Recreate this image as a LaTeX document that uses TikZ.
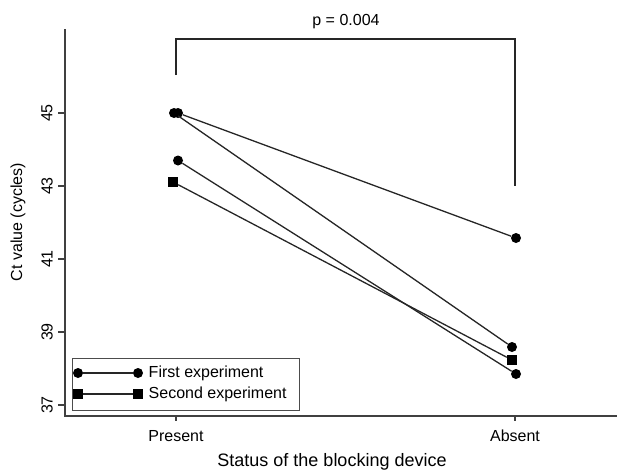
\documentclass[tikz,border=0pt]{standalone}
\usepackage{fontspec}
\setmainfont{Liberation Sans}
\usetikzlibrary{positioning}

\begin{document}
\begin{tikzpicture}[x=1pt,y=-1pt,
  font=\fontsize{16}{19}\selectfont,
  dot/.style={circle,fill=black,inner sep=0pt,minimum size=10pt},
  sq/.style={rectangle,fill=black,inner sep=0pt,minimum size=10pt},
  pair/.style={line width=1.3pt,black!85},
  axisline/.style={line width=1.4pt,black!75}]
\useasboundingbox (0,0) rectangle (617,471);

% axes and ticks
\draw[axisline] (65,29) -- (65,416) -- (617,416);
\foreach \v/\y in {37/405,39/332,41/259,43/186,45/113}{
  \draw[axisline] (58,\y) -- (65,\y);
  \node[rotate=90] (tick\v) at (47,\y) {\v};
}
\foreach \x/\name in {176/Present,515/Absent}{
  \draw[axisline] (\x,416) -- (\x,421);
  \node (lab\name) at (\x,436) {\name};
}
\node[font=\fontsize{18}{21}\selectfont] (xtitle) at (332,462) {Status of the blocking device};
\node[rotate=90] (ytitle) at (18,222) {Ct value (cycles)};

% bracket with p value
\coordinate (brL) at (176,75);
\coordinate (brTop) at (346,39);
\coordinate (brR) at (515,186);
\draw[pair] (brL) |- (brTop) -| (brR);
\node (pval) at (346,22) {p = 0.004};

% present
\node[dot] (p1) at (178,113) {};
\node[dot] (p2) at (174,113) {};
\node[dot] (p3) at (178,160.5) {};
\node[sq]  (p4) at (173,182) {};
% absent
\node[dot] (a1) at (516,238) {};
\node[dot] (a2) at (512,347) {};
\node[dot] (a3) at (516,374) {};
\node[sq]  (a4) at (512,360) {};

\foreach \i in {1,...,4}
  \draw[pair] (p\i) -- (a\i);

% legend
\node[draw=black!70,line width=0.9pt,minimum width=227pt,minimum height=52pt] (legbox) at (185.5,384) {};
\node[dot] (l1a) at (78,373) {};
\node[dot] (l1b) at (138,373) {};
\node[sq]  (l2a) at (78,394) {};
\node[sq]  (l2b) at (138,394) {};
\draw[pair] (l1a) -- (l1b);
\draw[pair] (l2a) -- (l2b);
\node[right=2pt of l1b] (leg1) {First experiment};
\node[right=2pt of l2b] (leg2) {Second experiment};
\end{tikzpicture}
\end{document}
